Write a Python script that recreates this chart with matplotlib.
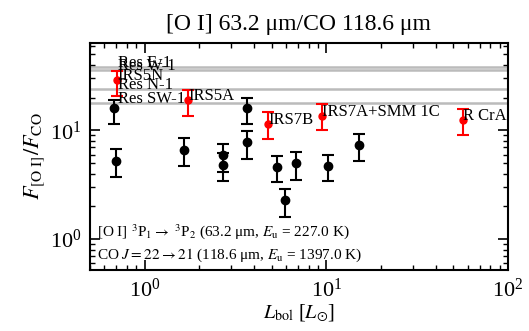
import matplotlib
matplotlib.use("Agg")
import matplotlib.pyplot as plt

plt.rcParams['font.family'] = ['Liberation Serif', 'DejaVu Serif']
plt.rcParams['mathtext.fontset'] = 'stix'

# black points (no label)
black_lbol = [0.678, 0.70, 1.64, 2.69, 2.69, 3.67, 3.67, 5.36, 5.95, 6.84, 10.2, 15.2]
black_ratio = [16.05, 5.27, 6.65, 5.9, 4.85, 16.2, 7.76, 4.58, 2.31, 5.02, 4.74, 7.4]
black_lo = [11.5, 3.73, 4.74, 4.15, 3.4, 11.4, 5.5, 3.33, 1.60, 3.53, 3.46, 5.27]
black_hi = [19.1, 6.75, 8.5, 7.55, 6.2, 19.7, 9.9, 5.86, 2.92, 6.34, 5.98, 9.33]

# red labelled sources
red_names = ['IRS5N', 'IRS5A', 'IRS7B', 'IRS7A+SMM 1C', 'R CrA']
red_lbol = [0.708, 1.74, 4.78, 9.5, 56.8]
red_ratio = [29.3, 19.1, 11.5, 13.7, 12.5]
red_lo = [20.5, 13.6, 8.4, 10.0, 9.0]
red_hi = [34.8, 23.6, 14.9, 17.6, 15.8]

# sources without Lbol -> horizontal lines
res_names = ['Res E-1', 'Res W-1', 'Res N-1', 'Res SW-1']
res_ratio = [38.4, 36.2, 24.0, 17.9]
res_text_x = 0.71

fig = plt.figure(figsize=(5.29, 3.31), dpi=100)
ax = fig.add_axes([0.170, 0.184, 0.790, 0.687])

for r in res_ratio:
    ax.axhline(r, color='#bbbbbb', lw=1.8, zorder=1)
for name, r in zip(res_names, res_ratio):
    ax.text(res_text_x, r, name, fontsize=12, zorder=4)

yerr_black = [[v - l for v, l in zip(black_ratio, black_lo)],
              [h - v for v, h in zip(black_ratio, black_hi)]]
ax.errorbar(black_lbol, black_ratio, yerr=yerr_black, fmt='o', color='black',
            ms=6, elinewidth=1.5, capsize=4.5, capthick=1.5, zorder=3)

yerr_red = [[v - l for v, l in zip(red_ratio, red_lo)],
            [h - v for v, h in zip(red_ratio, red_hi)]]
ax.errorbar(red_lbol, red_ratio, yerr=yerr_red, fmt='o', color='red',
            ms=5, elinewidth=1.5, capsize=4.5, capthick=1.5, zorder=3)
for name, x, y in zip(red_names, red_lbol, red_ratio):
    ax.text(x, y, name, fontsize=12, zorder=4)

ax.set_xscale('log')
ax.set_yscale('log')
ax.set_xlim(0.5, 100)
ax.set_ylim(0.52, 64)

ax.text(0.016, 0.15, r'[O I] $^3$P$_1 \rightarrow$ $^3$P$_2$ (63.2 μm, $E_{\rm u}$ = 227.0 K)',
        transform=ax.transAxes, fontsize=11)
ax.text(0.016, 0.05, r'CO $J = 22 \rightarrow 21$ (118.6 μm, $E_{\rm u}$ = 1397.0 K)',
        transform=ax.transAxes, fontsize=11)

ax.set_title('[O I] 63.2 μm/CO 118.6 μm', fontsize=17, pad=9)
ax.set_xlabel(r'$L_{\rm bol}$ [$L_{\odot}$]', fontsize=14.5, labelpad=1)
ax.set_ylabel(r'$F_{\rm [O\ I]}/F_{\rm CO}$', fontsize=16, labelpad=2)

ax.tick_params(which='both', direction='in', top=True, right=True, labelsize=16)
ax.tick_params(axis='x', pad=6)
ax.tick_params(axis='y', pad=6)
ax.tick_params(which='major', length=7, width=1.2)
ax.tick_params(which='minor', length=3.5, width=1.0)
for s in ax.spines.values():
    s.set_linewidth(1.5)

fig.savefig('out.png', dpi=100)
